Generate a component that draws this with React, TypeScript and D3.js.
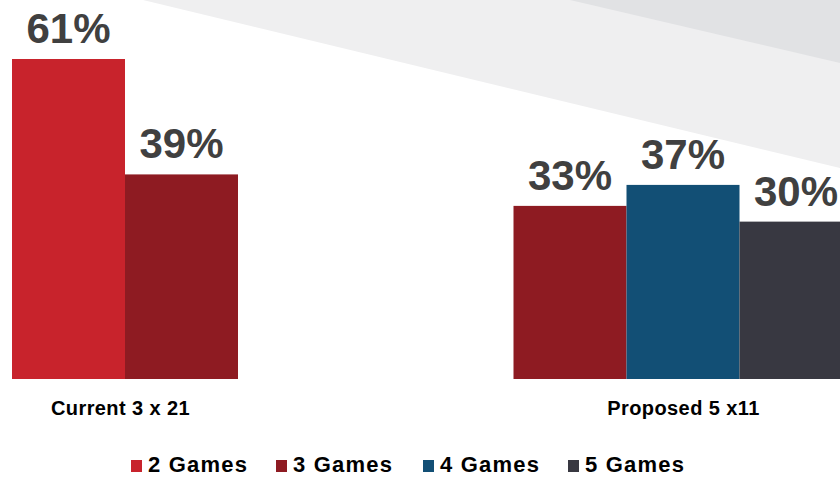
import React from "react";
import * as d3 from "d3";

const groups = ["Current 3 x 21", "Proposed 5 x11"];
const seriesNames = ["2 Games", "3 Games", "4 Games", "5 Games"];
const seriesColors = ["#c8232c", "#8e1b22", "#124f75", "#383841"];
const currentSeries = ["2 Games", "3 Games"];
const currentValues = [61, 39];
const proposedSeries = ["3 Games", "4 Games", "5 Games"];
const proposedValues = [33, 37, 30];

const W = 840;
const H = 477;

export default function App() {
  const baseline = 379;
  const y = d3.scaleLinear().domain([0, 61]).range([baseline, 59]);
  const gx = d3.scalePoint<string>().domain(groups).range([125, 683]);
  const barW = 113;
  const color = d3.scaleOrdinal<string, string>().domain(seriesNames).range(seriesColors);

  const data = [
    { group: groups[0], series: currentSeries, values: currentValues },
    { group: groups[1], series: proposedSeries, values: proposedValues },
  ];

  const font = "'Liberation Sans', Arial, Helvetica, sans-serif";

  const legendX = [131, 276, 423, 568];

  return (
    <svg
      width={W}
      height={H}
      style={{ position: "absolute", left: 0, top: 0, display: "block" }}
    >
      <rect x={0} y={0} width={W} height={H} fill="#ffffff" />
      <polygon points={`143,0 ${W},0 ${W},168`} fill="#efeff0" />
      <polygon points={`570,0 ${W},0 ${W},63`} fill="#e1e2e4" />
      {data.map((g) => {
        const cx = gx(g.group)!;
        const n = g.series.length;
        return (
          <g key={g.group}>
            {g.series.map((s, i) => {
              const x0 = cx + (i - n / 2) * barW;
              const v = g.values[i];
              return (
                <g key={s}>
                  <rect
                    x={x0}
                    y={y(v)}
                    width={barW}
                    height={baseline - y(v)}
                    fill={color(s)}
                  />
                  <text
                    x={x0 + barW / 2}
                    y={y(v) - 16}
                    textAnchor="middle"
                    fontFamily={font}
                    fontWeight="bold"
                    fontSize={42}
                    fill="#404040"
                  >
                    {v}%
                  </text>
                </g>
              );
            })}
            <text
              x={g.group === groups[1] ? 683.5 : 120.5}
              y={415}
              textAnchor="middle"
              fontFamily={font}
              fontWeight="bold"
              fontSize={20}
              letterSpacing={0.4}
              fill="#000000"
            >
              {g.group}
            </text>
          </g>
        );
      })}
      {seriesNames.map((s, i) => (
        <g key={s}>
          <rect x={legendX[i]} y={460} width={11} height={12} fill={color(s)} />
          <text
            x={legendX[i] + 17}
            y={472}
            fontFamily={font}
            fontWeight="bold"
            fontSize={22}
            letterSpacing={1.2}
            fill="#000000"
          >
            {s}
          </text>
        </g>
      ))}
    </svg>
  );
}
